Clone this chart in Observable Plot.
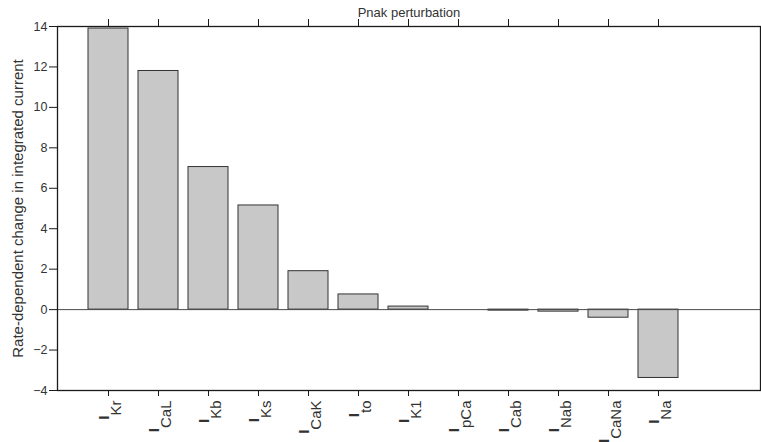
<!DOCTYPE html>
<html>
<head>
<meta charset="utf-8">
<script src="https://cdn.jsdelivr.net/npm/d3@7"></script>
<script src="https://cdn.jsdelivr.net/npm/@observablehq/plot@0.6"></script>
<style>
  html, body { margin: 0; padding: 0; background: #fff; }
  #chart svg { display: block; }
</style>
</head>
<body>
<div id="chart"></div>
<script>
// Ionic currents (drawn as I with a subscript) and their rate-dependent change
const currents = ["Kr", "CaL", "Kb", "Ks", "CaK", "to", "K1", "pCa", "Cab", "Nab", "CaNa", "Na"];
const changes = [13.9, 11.8, 7.05, 5.15, 1.9, 0.75, 0.15, 0, -0.05, -0.1, -0.4, -3.38];
const yTicks = [-4, -2, 0, 2, 4, 6, 8, 10, 12, 14];
const titleText = "Pnak perturbation";
const yLabel = "Rate-dependent change in integrated current";

const data = currents.map((c, i) => ({current: c, change: changes[i]}));

const chart = Plot.plot({
  width: 761,
  height: 442,
  marginLeft: 57,
  marginRight: 1,
  marginTop: 26,
  marginBottom: 52,
  style: {fontFamily: "'Liberation Sans', Arial, sans-serif", fontSize: "12px", color: "#333", background: "#fff"},
  x: {domain: currents, range: [83, 683], paddingInner: 0.2, paddingOuter: 0.1, align: 0.5, label: null},
  y: {domain: [-4, 14], label: null},
  marks: [
    Plot.barY(data, {x: "current", y: "change", fill: "#c8c8c8", stroke: "#333", strokeWidth: 1}),
    Plot.ruleY([0], {stroke: "#4a4a4a", strokeWidth: 1}),
    Plot.frame({stroke: "#1a1a1a", strokeWidth: 1.3}),
    Plot.axisY({ticks: yTicks, tickSize: 8, tickPadding: 2, fontSize: 12.5, label: null, stroke: "#1a1a1a"}),
    Plot.axisX({anchor: "bottom", tickSize: 6, tickPadding: 4, tickRotate: -90, fontSize: 15,
                tickFormat: d => "I" + d, label: null, stroke: "#1a1a1a"}),
    Plot.axisX({anchor: "top", tickSize: 8, tickFormat: () => "", label: null, stroke: "#1a1a1a"}),
    Plot.text([titleText], {frameAnchor: "top", dy: -14, lineAnchor: "middle", fontSize: 13, text: d => d}),
    Plot.text([yLabel], {frameAnchor: "left", dx: -39, rotate: -90, textAnchor: "middle",
                         lineAnchor: "middle", fontSize: 15, text: d => d})
  ]
});

// Rebuild the bottom tick labels as a bold "I" followed by a subscript name
d3.select(chart).selectAll('g[aria-label="x-axis tick label"] text').each(function () {
  const t = d3.select(this);
  const label = this.textContent;
  t.text(null).attr("dy", "0").attr("y", null);
  t.append("tspan").attr("font-weight", "bold").text(label.slice(0, 1));
  t.append("tspan").attr("dy", 12).text(label.slice(1));
});

document.getElementById("chart").appendChild(chart);
</script>
</body>
</html>
